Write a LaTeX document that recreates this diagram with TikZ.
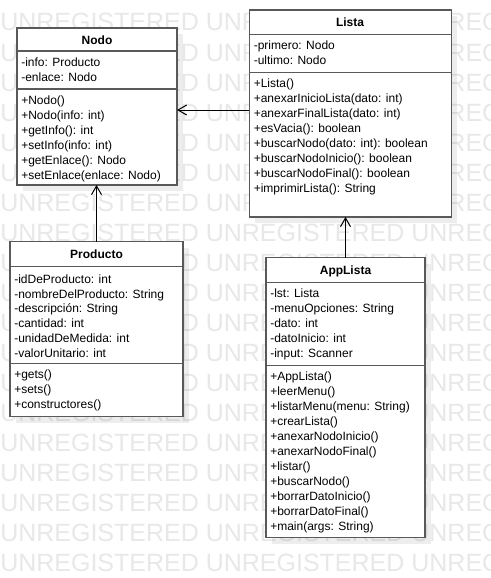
\documentclass[tikz,border=0pt]{standalone}
\usepackage{fontspec}
\setmainfont{Liberation Sans}
\usetikzlibrary{arrows.meta}
\begin{document}
\begin{tikzpicture}[x=0.75pt,y=-0.75pt,
  cls/.style={draw=black!65, line width=1.1pt, fill=white, inner sep=0pt, outer sep=0pt, anchor=north west},
  shadowbox/.style={fill=black, fill opacity=0.07, draw=none, inner sep=0pt, outer sep=0pt, anchor=north west},
  sepl/.style={draw=black!65, line width=1.1pt},
  txt/.style={inner sep=0pt, anchor=base west, font=\fontsize{9}{11}\selectfont},
  ttl/.style={inner sep=0pt, anchor=base, font=\fontsize{9}{11}\selectfont\bfseries},
  wm/.style={inner sep=0pt, anchor=base west, text=black!9, font=\fontsize{18.75}{20}\selectfont},
  conn/.style={draw=black, line width=0.75pt, -{Straight Barb[length=6.5pt,width=7.5pt]}}]
\useasboundingbox (0,0) rectangle (490,578);
\fill[white] (0,0) rectangle (490,578);
% watermark
\foreach \k in {0,...,18}
  \node[wm] (wm\k) at (0,31+30*\k) {UNREGISTERED UNREGISTERED UNREGISTERED};
% shadows
\node[shadowbox, minimum width=120pt, minimum height=117.75pt] (nodo-sh) at (23,34) {};
\node[shadowbox, minimum width=151.5pt, minimum height=155.25pt] (lista-sh) at (255.3,16) {};
\node[shadowbox, minimum width=129.75pt, minimum height=131.25pt] (producto-sh) at (16,247.7) {};
\node[shadowbox, minimum width=119.25pt, minimum height=210pt] (applista-sh) at (272,263.7) {};
% ---------- Nodo ----------
\node[cls, minimum width=120pt, minimum height=117.75pt] (nodo) at (17,28) {};
\draw[sepl] (nodo.west |- {(0,51)}) -- (nodo.east |- {(0,51)});
\draw[sepl] (nodo.west |- {(0,89)}) -- (nodo.east |- {(0,89)});
\node[ttl] (nodo-t) at (97,44) {Nodo};
\foreach \t [count=\i] in {{-info: Producto},{-enlace: Nodo}}
  \node[txt] (nodo-a\i) at (21,51+15*\i) {\t};
\foreach \t [count=\i] in {{+Nodo()},{+Nodo(info: int)},{+getInfo(): int},{+setInfo(info: int)},{+getEnlace(): Nodo},{+setEnlace(enlace: Nodo)}}
  \node[txt] (nodo-m\i) at (21,89+15*\i) {\t};
% ---------- Lista ----------
\node[cls, minimum width=151.5pt, minimum height=155.25pt] (lista) at (249.3,10) {};
\draw[sepl] (lista.west |- {(0,34.3)}) -- (lista.east |- {(0,34.3)});
\draw[sepl] (lista.west |- {(0,72.7)}) -- (lista.east |- {(0,72.7)});
\node[ttl] (lista-t) at (350,26.7) {Lista};
\foreach \t [count=\i] in {{-primero: Nodo},{-ultimo: Nodo}}
  \node[txt] (lista-a\i) at (253.5,34.3+15*\i) {\t};
\foreach \t [count=\i] in {{+Lista()},{+anexarInicioLista(dato: int)},{+anexarFinalLista(dato: int)},{+esVacia(): boolean},{+buscarNodo(dato: int): boolean},{+buscarNodoInicio(): boolean},{+buscarNodoFinal(): boolean},{+imprimirLista(): String}}
  \node[txt] (lista-m\i) at (253.5,72.7+15*\i) {\t};
% ---------- Producto ----------
\node[cls, minimum width=129.75pt, minimum height=131.25pt] (producto) at (10,241.7) {};
\draw[sepl] (producto.west |- {(0,266.7)}) -- (producto.east |- {(0,266.7)});
\draw[sepl] (producto.west |- {(0,363.3)}) -- (producto.east |- {(0,363.3)});
\node[ttl] (producto-t) at (96.5,258.7) {Producto};
\foreach \t [count=\i] in {{-idDeProducto: int},{-nombreDelProducto: String},{-descripción: String},{-cantidad: int},{-unidadDeMedida: int},{-valorUnitario: int}}
  \node[txt] (producto-a\i) at (14,268.5+14.8*\i) {\t};
\foreach \t [count=\i] in {{+gets()},{+sets()},{+constructores()}}
  \node[txt] (producto-m\i) at (14,363.3+15*\i) {\t};
% ---------- AppLista ----------
\node[cls, minimum width=119.25pt, minimum height=210pt] (applista) at (266,257.7) {};
\draw[sepl] (applista.west |- {(0,282.7)}) -- (applista.east |- {(0,282.7)});
\draw[sepl] (applista.west |- {(0,365.7)}) -- (applista.east |- {(0,365.7)});
\node[ttl] (applista-t) at (345.5,274.7) {AppLista};
\foreach \t [count=\i] in {{-lst: Lista},{-menuOpciones: String},{-dato: int},{-datoInicio: int},{-input: Scanner}}
  \node[txt] (applista-a\i) at (270,282.7+15*\i) {\t};
\foreach \t [count=\i] in {{+AppLista()},{+leerMenu()},{+listarMenu(menu: String)},{+crearLista()},{+anexarNodoInicio()},{+anexarNodoFinal()},{+listar()},{+buscarNodo()},{+borrarDatoInicio()},{+borrarDatoFinal()},{+main(args: String)}}
  \node[txt] (applista-m\i) at (270,365.7+15*\i) {\t};
% ---------- connectors ----------
\draw[conn] (lista.west |- {(0,110)}) -- (nodo.east |- {(0,110)});
\draw[conn] (producto.north) -- (producto.north |- nodo.south);
\draw[conn] (applista.north) -- (applista.north |- lista.south);
\end{tikzpicture}
\end{document}
